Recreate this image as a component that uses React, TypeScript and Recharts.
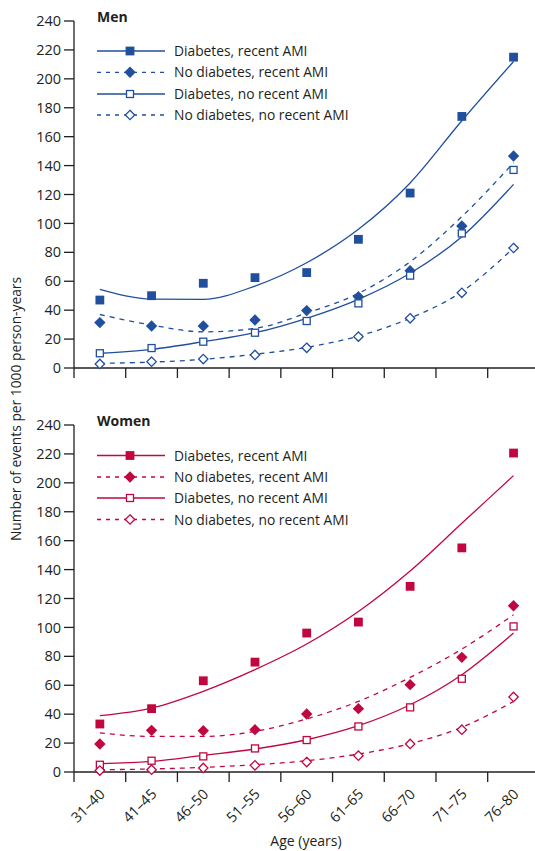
import React from "react";
import { ComposedChart, Line, XAxis, YAxis } from "recharts";

const ages = ["31–40", "41–45", "46–50", "51–55", "56–60", "61–65", "66–70", "71–75", "76–80"];
const yTicks = [0, 20, 40, 60, 80, 100, 120, 140, 160, 180, 200, 220, 240];

// observed rates, men
const menDiabRecent = [47, 50, 58.6, 62.5, 66, 89, 121, 174, 215];
const menNoDiabRecent = [31.4, 29, 29, 33.2, 39.7, 49.3, 67.3, 98.2, 146.6];
const menDiabNoRecent = [10.2, 13.8, 18.2, 24.4, 32.5, 44.7, 63.9, 93.1, 137];
const menNoDiabNoRecent = [2.8, 4.4, 6.2, 9.0, 14, 21.7, 34.4, 52, 83];
// fitted curves, men
const menFitDiabRecent = [54.4, 47.7, 47.5, 56.7, 72.8, 95.9, 128, 171, 212];
const menFitNoDiabRecent = [37, 29.7, 25, 27.4, 38, 51.6, 73.5, 104.7, 142];
const menFitDiabNoRecent = [10.2, 12.9, 18.2, 24.4, 34.4, 47.5, 65.5, 90.8, 127];
const menFitNoDiabNoRecent = [3.2, 4.1, 6, 9.5, 14.3, 22.1, 34.4, 52.8, 83];

// observed rates, women
const womenDiabRecent = [33.2, 43.8, 63.1, 76, 96.1, 103.7, 128.4, 155, 220.6];
const womenNoDiabRecent = [19.4, 28.8, 28.6, 29.3, 40.1, 43.8, 60.4, 79.3, 115];
const womenDiabNoRecent = [5, 7.8, 10.8, 16.3, 22.1, 31.5, 44.7, 64.5, 100.7];
const womenNoDiabNoRecent = [1, 1.6, 2.8, 4.6, 6.9, 11.3, 19.4, 29.3, 51.9];
// fitted curves, women
const womenFitDiabRecent = [39, 44.2, 55.8, 70.8, 88.5, 111, 139, 172, 205];
const womenFitNoDiabRecent = [27, 24.6, 24.6, 28.1, 36.7, 48.8, 65.4, 85, 108.8];
const womenFitDiabNoRecent = [5.7, 7.3, 11.5, 15.9, 22.3, 32, 46.5, 67.3, 96.1];
const womenFitNoDiabNoRecent = [1.6, 2.1, 3.2, 5, 7.8, 12.4, 19.6, 30.9, 48.8];

const seriesNames = [
  "Diabetes, recent AMI",
  "No diabetes, recent AMI",
  "Diabetes, no recent AMI",
  "No diabetes, no recent AMI",
];
const shapes = ["square", "diamond", "openSquare", "openDiamond"];
const dashed = [false, true, false, true];

const BLUE = "#1f4f9d";
const RED = "#c0073f";
const INK = "#231f20";

function buildRows(obs: number[][], fit: number[][]) {
  return ages.map((age, i) => {
    const row: any = { age };
    obs.forEach((s, k) => (row["o" + k] = s[i]));
    fit.forEach((s, k) => (row["f" + k] = s[i]));
    return row;
  });
}

const menRows = buildRows(
  [menDiabRecent, menNoDiabRecent, menDiabNoRecent, menNoDiabNoRecent],
  [menFitDiabRecent, menFitNoDiabRecent, menFitDiabNoRecent, menFitNoDiabNoRecent]
);
const womenRows = buildRows(
  [womenDiabRecent, womenNoDiabRecent, womenDiabNoRecent, womenNoDiabNoRecent],
  [womenFitDiabRecent, womenFitNoDiabRecent, womenFitDiabNoRecent, womenFitNoDiabNoRecent]
);

function Marker({ cx, cy, shape, color }: any) {
  if (cx == null || cy == null) return null;
  if (shape === "square")
    return <rect x={cx - 4.4} y={cy - 4.4} width={8.8} height={8.8} fill={color} />;
  if (shape === "openSquare")
    return (
      <rect x={cx - 3.5} y={cy - 3.5} width={7} height={7} fill="#fff" stroke={color} strokeWidth={1.3} />
    );
  const r = shape === "diamond" ? 5.7 : 4.7;
  return (
    <path
      d={`M${cx},${cy - r}L${cx + r},${cy}L${cx},${cy + r}L${cx - r},${cy}Z`}
      fill={shape === "diamond" ? color : "#fff"}
      stroke={shape === "diamond" ? "none" : color}
      strokeWidth={1.3}
    />
  );
}

function AgeTick(props: any) {
  const { x, y, payload, width, visibleTicksCount, showLabel } = props;
  const half = payload.offset ?? width / visibleTicksCount / 2;
  return (
    <g>
      <line x1={x - half} y1={y} x2={x - half} y2={y + 10} stroke={INK} strokeWidth={1.3} />
      {showLabel && (
        <text
          x={x + 6}
          y={y + 23}
          transform={`rotate(-45, ${x + 6}, ${y + 23})`}
          textAnchor="end"
          fontSize={14.5}
          fill={INK}
        >
          {payload.value}
        </text>
      )}
    </g>
  );
}

function Panel({ rows, color, height, margin, showLabels }: any) {
  return (
    <ComposedChart width={545} height={height} data={rows} margin={margin}>
      <XAxis
        dataKey="age"
        scale="band"
        interval={0}
        tickSize={0}
        tickMargin={0}
        tickLine={false}
        axisLine={{ stroke: INK, strokeWidth: 1.3 }}
        height={showLabels ? 79 : 10}
        tick={(p: any) => <AgeTick {...p} showLabel={showLabels} />}
      />
      <YAxis
        domain={[0, 240]}
        ticks={yTicks}
        interval={0}
        width={74}
        tickSize={10}
        tickMargin={3}
        axisLine={{ stroke: INK, strokeWidth: 1.3 }}
        tickLine={{ stroke: INK, strokeWidth: 1.3 }}
        tick={{ fontSize: 14.5, fill: INK }}
      />
      {seriesNames.map((n, k) => (
        <Line
          key={"f" + k}
          dataKey={"f" + k}
          type="monotone"
          stroke={color}
          strokeWidth={1.3}
          strokeDasharray={dashed[k] ? "5 5" : undefined}
          dot={false}
          activeDot={false}
          isAnimationActive={false}
        />
      ))}
      {seriesNames.map((n, k) => (
        <Line
          key={"o" + k}
          dataKey={"o" + k}
          stroke="none"
          dot={(p: any) => <Marker key={p.index} cx={p.cx} cy={p.cy} shape={shapes[k]} color={color} />}
          activeDot={false}
          isAnimationActive={false}
        />
      ))}
    </ComposedChart>
  );
}

function LegendBlock({ title, titleY, rowsY, color }: any) {
  return (
    <g>
      <text x={97} y={titleY} fontSize={14} fontWeight={700} fill={INK}>
        {title}
      </text>
      {seriesNames.map((n, k) => (
        <g key={n}>
          <line
            x1={97}
            y1={rowsY[k]}
            x2={165}
            y2={rowsY[k]}
            stroke={color}
            strokeWidth={1.3}
            strokeDasharray={dashed[k] ? "4 5" : undefined}
          />
          <Marker cx={130} cy={rowsY[k]} shape={shapes[k]} color={color} />
          <text x={174} y={rowsY[k] + 5} fontSize={13.8} fill={INK}>
            {n}
          </text>
        </g>
      ))}
    </g>
  );
}

export default function App() {
  return (
    <div
      style={{
        position: "fixed",
        left: 0,
        top: 0,
        width: 535,
        height: 851,
        overflow: "hidden",
        background: "#fff",
        fontFamily: "'Open Sans', sans-serif",
      }}
    >
      <div style={{ position: "absolute", left: 0, top: 0 }}>
        <Panel rows={menRows} color={BLUE} height={380} margin={{ top: 21, right: 5.6, bottom: 2, left: 0 }} showLabels={false} />
      </div>
      <div style={{ position: "absolute", left: 0, top: 380 }}>
        <Panel rows={womenRows} color={RED} height={471} margin={{ top: 45, right: 5.6, bottom: 0, left: 0 }} showLabels />
      </div>
      <svg width={535} height={851} style={{ position: "absolute", left: 0, top: 0, pointerEvents: "none" }}>
        <LegendBlock title="Men" titleY={22} rowsY={[51, 72.3, 94, 115]} color={BLUE} />
        <LegendBlock title="Women" titleY={426} rowsY={[455.5, 477, 498, 519.5]} color={RED} />
        <text
          x={0}
          y={0}
          transform="translate(21, 409) rotate(-90)"
          textAnchor="middle"
          fontSize={13.8}
          fill={INK}
        >
          Number of events per 1000 person-years
        </text>
        <text x={306} y={846} textAnchor="middle" fontSize={14} fill={INK}>
          Age (years)
        </text>
      </svg>
    </div>
  );
}
